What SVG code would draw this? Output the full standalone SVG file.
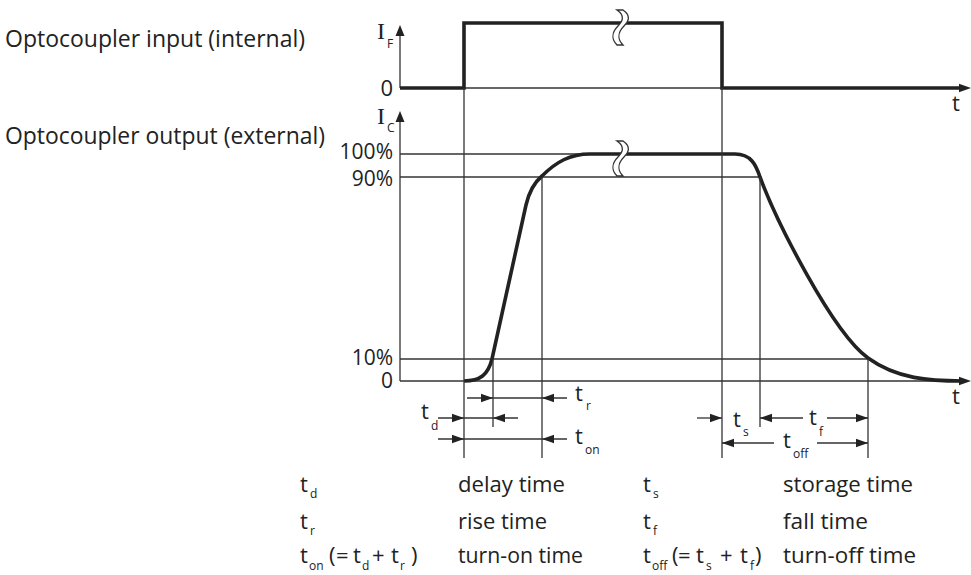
<svg xmlns="http://www.w3.org/2000/svg" width="971" height="575" viewBox="0 0 971 575">
<style>
text{font-family:"Open Sans","Noto Sans","Liberation Sans",sans-serif;fill:#222;font-size:22px}
.lbl{font-size:23px}
.sub{font-size:12px}
.pct{font-size:21px}
.cap{font-family:"Liberation Serif","DejaVu Serif",serif;font-size:24px}
.r{text-anchor:end}
.thin{stroke:#333;stroke-width:1.3;fill:none}
.thick{stroke:#222;stroke-width:3.6;fill:none;stroke-linejoin:miter}
.wave{stroke:#333;stroke-width:1.3;fill:#fff}
.ah{fill:#222}
</style>
<defs>
<path id="ahR" d="M0,0 L-12,-4.2 L-12,4.2 Z"/>
<path id="ahL" d="M0,0 L12,-4.2 L12,4.2 Z"/>
<path id="ahU" d="M0,0 L-4.5,11 L4.5,11 Z"/>
<path id="brk" d="M0,-13 C9,-7 5,-1 1,3 C-6,10 -5,17 0,22 L6,22 C1,17 0,10 7,3 C11,-1 15,-7 6,-13 Z"/>
</defs>
<rect width="971" height="575" fill="#fff"/>

<g id="labels">
<text class="lbl" x="5" y="47" textLength="300" lengthAdjust="spacingAndGlyphs">Optocoupler input (internal)</text>
<text class="lbl" x="5" y="144" textLength="320" lengthAdjust="spacingAndGlyphs">Optocoupler output (external)</text>
</g>

<g id="input-axis">
<line class="thin" x1="400" y1="88" x2="400" y2="34"/>
<use href="#ahU" x="400" y="25" class="ah"/>
<text class="cap" x="377" y="39">I</text><text class="sub" x="387" y="48">F</text>
<text class="r" x="393" y="96">0</text>
<line class="thin" x1="464" y1="88" x2="722" y2="88"/>
<use href="#ahR" x="971" y="88" class="ah"/>
<text x="952" y="111">t</text>
</g>

<g id="input-signal">
<path class="thick" d="M400,88 L464,88 L464,23 L722,23 L722,88 L962,88"/>
<use href="#brk" x="617" y="23" class="wave"/>
</g>

<g id="output-axis">
<line class="thin" x1="400" y1="381" x2="400" y2="121"/>
<use href="#ahU" x="400" y="111" class="ah"/>
<text class="cap" x="377" y="124">I</text><text class="sub" x="387" y="132">C</text>
<text class="r pct" x="393" y="159">100%</text>
<text class="r pct" x="393" y="186">90%</text>
<text class="r pct" x="393" y="365">10%</text>
<text class="r pct" x="393" y="388">0</text>
<line class="thin" x1="400" y1="154" x2="592" y2="154"/>
<line class="thin" x1="400" y1="177" x2="760" y2="177"/>
<line class="thin" x1="400" y1="359" x2="868" y2="359"/>
<line class="thin" x1="400" y1="381" x2="962" y2="381"/>
<use href="#ahR" x="971" y="381" class="ah"/>
<text x="952" y="404">t</text>
</g>

<g id="output-signal">
<path class="thick" d="M464,381 C480,381 488,375 492,359 L526,205 C530,188 536,181 542,176 C556,162 570,154 590,154 L735,154 C751,154 756,165 760,177 C776,220 832,332 868,358 C897,379 930,381 962,381"/>
<use href="#brk" x="617" y="154" class="wave"/>
</g>

<g id="guides">
<line class="thin" x1="464" y1="88" x2="464" y2="458"/>
<line class="thin" x1="722" y1="88" x2="722" y2="458"/>
<line class="thin" x1="542" y1="177" x2="542" y2="458"/>
<line class="thin" x1="493" y1="359" x2="493" y2="427"/>
<line class="thin" x1="760" y1="177" x2="760" y2="427"/>
<line class="thin" x1="868" y1="359" x2="868" y2="458"/>
</g>

<g id="connectors">
<line class="thin" x1="467" y1="398" x2="567" y2="398"/>
<use href="#ahR" x="493" y="398" class="ah"/>
<use href="#ahL" x="542" y="398" class="ah"/>
<line class="thin" x1="438" y1="418" x2="518" y2="418"/>
<use href="#ahR" x="464" y="418" class="ah"/>
<use href="#ahL" x="493" y="418" class="ah"/>
<line class="thin" x1="438" y1="439" x2="567" y2="439"/>
<use href="#ahR" x="464" y="439" class="ah"/>
<use href="#ahL" x="542" y="439" class="ah"/>
<line class="thin" x1="697" y1="418" x2="722" y2="418"/>
<use href="#ahR" x="722" y="418" class="ah"/>
<line class="thin" x1="760" y1="418" x2="803" y2="418"/>
<use href="#ahL" x="760" y="418" class="ah"/>
<line class="thin" x1="827" y1="418" x2="868" y2="418"/>
<use href="#ahR" x="868" y="418" class="ah"/>
<line class="thin" x1="722" y1="443" x2="774" y2="443"/>
<use href="#ahL" x="722" y="443" class="ah"/>
<line class="thin" x1="817" y1="443" x2="868" y2="443"/>
<use href="#ahR" x="868" y="443" class="ah"/>
</g>

<g id="dim-labels">
<text x="575" y="401">t</text><text class="sub" x="586" y="410">r</text>
<text x="421" y="419">t</text><text class="sub" x="431" y="430">d</text>
<text x="575" y="444">t</text><text class="sub" x="585" y="454">on</text>
<text x="733" y="427">t</text><text class="sub" x="743" y="436">s</text>
<text x="809" y="425">t</text><text class="sub" x="819" y="436">f</text>
<text x="783" y="448">t</text><text class="sub" x="793" y="458">off</text>
</g>

<g id="legend">
<text x="300" y="492">t</text><text class="sub" x="310" y="498">d</text>
<text x="300" y="529">t</text><text class="sub" x="310" y="535">r</text>
<text x="300" y="563">t</text><text class="sub" x="309" y="570">on</text>
<text x="329" y="563">(</text>
<text x="336" y="563">=</text>
<text x="353" y="563">t</text><text class="sub" x="362" y="570">d</text>
<text x="372" y="563">+</text>
<text x="391" y="563">t</text><text class="sub" x="400" y="570">r</text>
<text x="411" y="563">)</text>
<text x="458" y="492" textLength="107" lengthAdjust="spacingAndGlyphs">delay time</text>
<text x="458" y="529" textLength="89" lengthAdjust="spacingAndGlyphs">rise time</text>
<text x="458" y="563" textLength="125" lengthAdjust="spacingAndGlyphs">turn-on time</text>

<text x="643" y="492">t</text><text class="sub" x="653" y="498">s</text>
<text x="643" y="529">t</text><text class="sub" x="653" y="535">f</text>
<text x="643" y="563">t</text><text class="sub" x="652" y="570">off</text>
<text x="672" y="563">(</text>
<text x="678" y="563">=</text>
<text x="696" y="563">t</text><text class="sub" x="706" y="570">s</text>
<text x="720" y="563">+</text>
<text x="740" y="563">t</text><text class="sub" x="750" y="570">f</text>
<text x="755" y="563">)</text>
<text x="783" y="492" textLength="130" lengthAdjust="spacingAndGlyphs">storage time</text>
<text x="783" y="529" textLength="85" lengthAdjust="spacingAndGlyphs">fall time</text>
<text x="783" y="563" textLength="133" lengthAdjust="spacingAndGlyphs">turn-off time</text>
</g>
</svg>
